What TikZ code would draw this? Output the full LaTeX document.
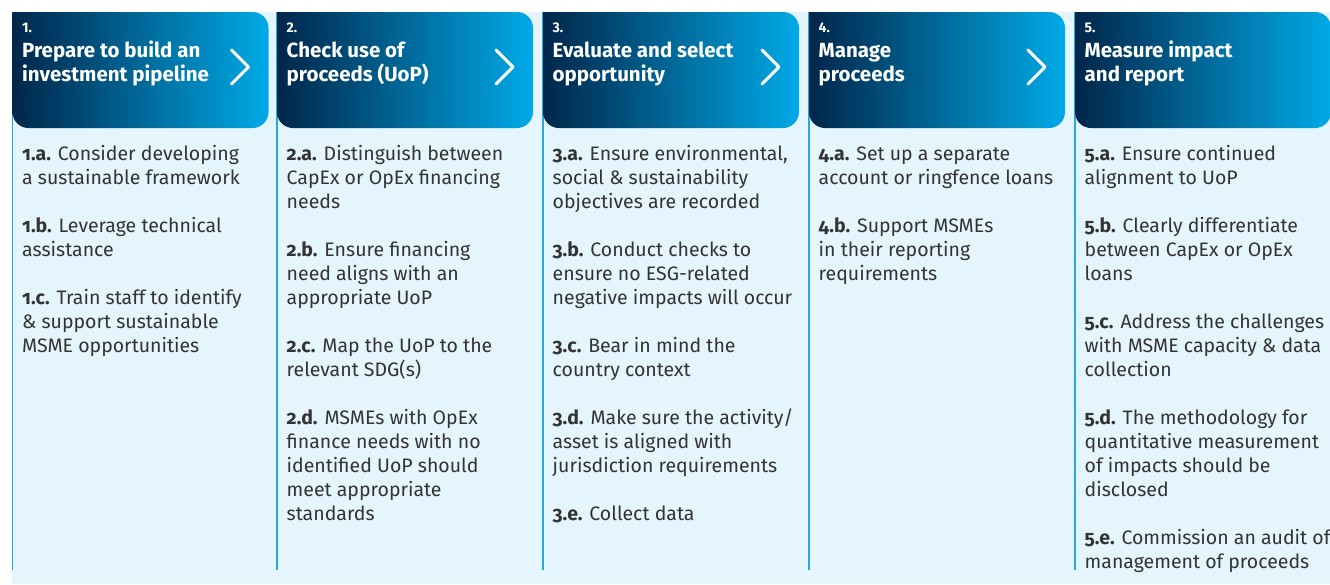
\documentclass[tikz,border=0pt]{standalone}
\usepackage{fontspec}
\setmainfont{Fira Sans}
\newfontfamily\oldnum{Fira Sans}[Numbers=OldStyle]
\definecolor{bgc}{HTML}{E5F5FD}
\definecolor{linec}{HTML}{29A9E1}
\definecolor{navyc}{HTML}{00264A}
\definecolor{cyanc}{HTML}{00AAE7}
\definecolor{txtc}{HTML}{333333}
\newcommand{\lab}[1]{{\oldnum\bfseries #1}}
\newcommand{\ml}[1]{\begin{tabular}[t]{@{}l@{}}#1\end{tabular}}
\tikzset{
  item/.style={anchor=base west, inner sep=0pt, text=txtc,
    font=\fontsize{19.5}{24}\selectfont},
  hnum/.style={anchor=base west, inner sep=0pt, text=white,
    font=\bfseries\fontsize{14}{16}\selectfont},
  htitle/.style={anchor=base west, inner sep=0pt, text=white,
    font=\bfseries\fontsize{20.5}{24}\selectfont},
  colline/.style={draw=linec, line width=1.5pt},
  hdr/.style={left color=navyc, right color=cyanc},
  chev/.style={draw=white, line width=3pt, line cap=round, line join=round}
}
\begin{document}
\begin{tikzpicture}[x=1pt,y=-1pt]
\useasboundingbox (0,0) rectangle (1330,584);
\clip (0,0) rectangle (1330,584);
\fill[bgc] (12,12) rectangle (1330,584);
% columns: lines and headers
\foreach \x [count=\i] in {12.5,277,543,809,1075}{
  \draw[colline] (\x,12) -- (\x,570);
  \pgfmathsetmacro{\xa}{\x+256}
  \shade[hdr] (\x,12) -- (\xa-16,12) arc[start angle=-90,end angle=0,radius=16]
     -- (\xa,112) arc[start angle=0,end angle=90,radius=16]
     -- (\x+16,128) arc[start angle=90,end angle=180,radius=16] -- cycle;
  \ifnum\i<5
    \coordinate (ch\i a) at (\xa-37,50);
    \coordinate (ch\i b) at (\xa-20,67);
    \coordinate (ch\i c) at (\xa-37,84);
    \draw[chev] (ch\i a) -- (ch\i b) -- (ch\i c);
  \fi
}
% header texts
\node[hnum] (n1) at (22,32.7) {1.};
\node[htitle] (t1) at (22,57) {\ml{Prepare to build an\\investment pipeline}};
\node[hnum] (n2) at (286.5,32.7) {2.};
\node[htitle] (t2) at (286.5,57) {\ml{Check use of\\proceeds (UoP)}};
\node[hnum] (n3) at (552.5,32.7) {3.};
\node[htitle] (t3) at (552.5,57) {\ml{Evaluate and select\\opportunity}};
\node[hnum] (n4) at (818.5,32.7) {4.};
\node[htitle] (t4) at (818.5,57) {\ml{Manage\\proceeds}};
\node[hnum] (n5) at (1084.5,32.7) {5.};
\node[htitle] (t5) at (1084.5,57) {\ml{Measure impact\\and report}};
% column 1
\node[item] (i1a) at (22,160) {\ml{\lab{1.a.} Consider developing\\a sustainable framework}};
\node[item] (i1b) at (22,232) {\ml{\lab{1.b.} Leverage technical\\assistance}};
\node[item] (i1c) at (22,304) {\ml{\lab{1.c.} Train staff to identify\\\& support sustainable\\MSME opportunities}};
% column 2
\node[item] (i2a) at (286.5,160) {\ml{\lab{2.a.} Distinguish between\\CapEx or OpEx financing\\needs}};
\node[item] (i2b) at (286.5,256) {\ml{\lab{2.b.} Ensure financing\\need aligns with an\\appropriate UoP}};
\node[item] (i2c) at (286.5,352) {\ml{\lab{2.c.} Map the UoP to the\\relevant SDG(s)}};
\node[item] (i2d) at (286.5,424) {\ml{\lab{2.d.} MSMEs with OpEx\\finance needs with no\\identified UoP should\\meet appropriate\\standards}};
% column 3
\node[item] (i3a) at (552.5,160) {\ml{\lab{3.a.} Ensure environmental,\\social \& sustainability\\objectives are recorded}};
\node[item] (i3b) at (552.5,256) {\ml{\lab{3.b.} Conduct checks to\\ensure no ESG-related\\negative impacts will occur}};
\node[item] (i3c) at (552.5,352) {\ml{\lab{3.c.} Bear in mind the\\country context}};
\node[item] (i3d) at (552.5,424) {\ml{\lab{3.d.} Make sure the activity/\\asset is aligned with\\jurisdiction requirements}};
\node[item] (i3e) at (552.5,520) {\ml{\lab{3.e.} Collect data}};
% column 4
\node[item] (i4a) at (818.5,160) {\ml{\lab{4.a.} Set up a separate\\account or ringfence loans}};
\node[item] (i4b) at (818.5,232) {\ml{\lab{4.b.} Support MSMEs\\in their reporting\\requirements}};
% column 5
\node[item] (i5a) at (1084.5,160) {\ml{\lab{5.a.} Ensure continued\\alignment to UoP}};
\node[item] (i5b) at (1084.5,232) {\ml{\lab{5.b.} Clearly differentiate\\between CapEx or OpEx\\loans}};
\node[item] (i5c) at (1084.5,328) {\ml{\lab{5.c.} Address the challenges\\with MSME capacity \& data\\collection}};
\node[item] (i5d) at (1084.5,424) {\ml{\lab{5.d.} The methodology for\\quantitative measurement\\of impacts should be\\disclosed}};
\node[item] (i5e) at (1084.5,544) {\ml{\lab{5.e.} Commission an audit of\\management of proceeds}};
\end{tikzpicture}
\end{document}
